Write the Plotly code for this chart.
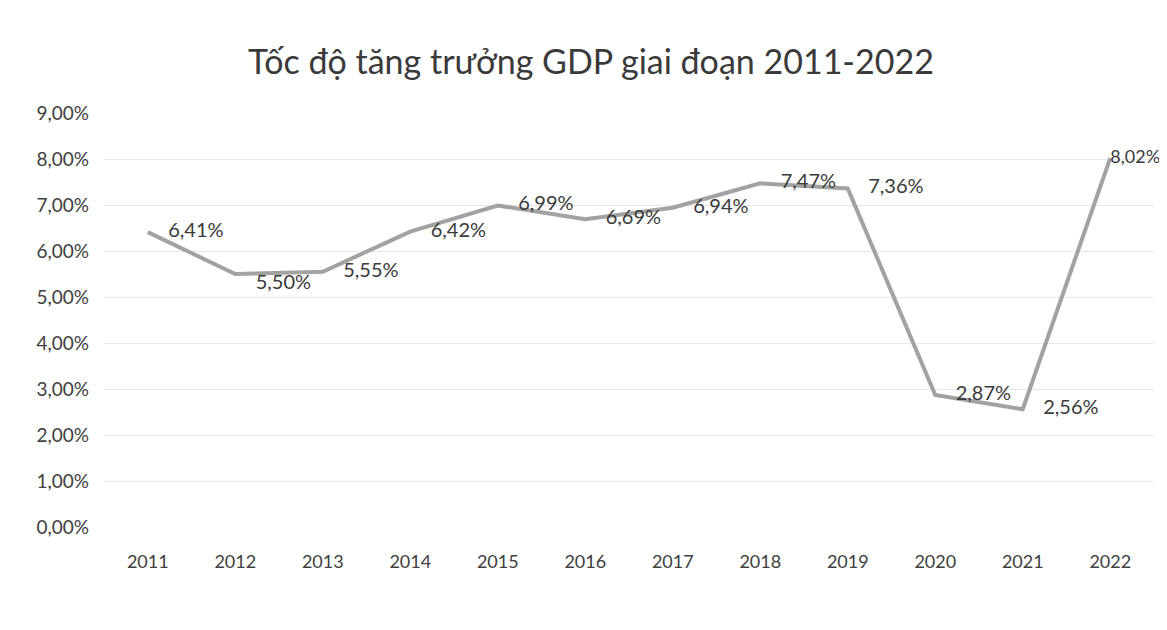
import plotly.graph_objects as go

years = ["2011", "2012", "2013", "2014", "2015", "2016", "2017", "2018", "2019", "2020", "2021", "2022"]
gdp_growth = [6.41, 5.50, 5.55, 6.42, 6.99, 6.69, 6.94, 7.47, 7.36, 2.87, 2.56, 8.02]
label_pos = ["middle right", "bottom right", "middle right", "middle right", "middle right", "middle right",
             "middle right", "middle right", "middle right", "middle right", "middle right", "middle right"]
label_pad = ["    "] * 11 + [""]
label_size = [20] * 11 + [18]
y_ticks = [0, 1, 2, 3, 4, 5, 6, 7, 8, 9]

FONT = "Lato, Open Sans, sans-serif"

fig = go.Figure()
fig.add_trace(go.Scatter(
    x=years, y=gdp_growth, mode="lines+text",
    line=dict(color="#a2a2a2", width=4),
    text=[p + f"{v:.2f}%".replace(".", ",") for p, v in zip(label_pad, gdp_growth)],
    textposition=label_pos,
    textfont=dict(family=FONT, size=label_size, color="#3a3a3a"),
    cliponaxis=False, showlegend=False,
))

fig.update_layout(
    width=1159, height=630,
    paper_bgcolor="white", plot_bgcolor="white",
    margin=dict(l=96, r=13, t=105, b=111),
    title=dict(text="Tốc độ tăng trưởng GDP giai đoạn 2011-2022", x=0.503, xanchor="center",
               y=0.914, yanchor="middle",
               font=dict(family=FONT, size=34, color="#3a3a3a")),
    xaxis=dict(type="category", range=[-0.5, 11.5], showgrid=False, showline=False, zeroline=False,
               ticks="", ticklabelstandoff=22,
               tickfont=dict(family=FONT, size=18, color="#404040")),
    yaxis=dict(range=[0, 9], tickvals=y_ticks,
               ticktext=[f"{v:.2f}%".replace(".", ",") for v in y_ticks],
               showgrid=True, gridcolor="#e8e8e8", gridwidth=1, zeroline=False, showline=False,
               ticklabelstandoff=14,
               tickfont=dict(family=FONT, size=19, color="#404040")),
)

fig.write_html("out.html")
